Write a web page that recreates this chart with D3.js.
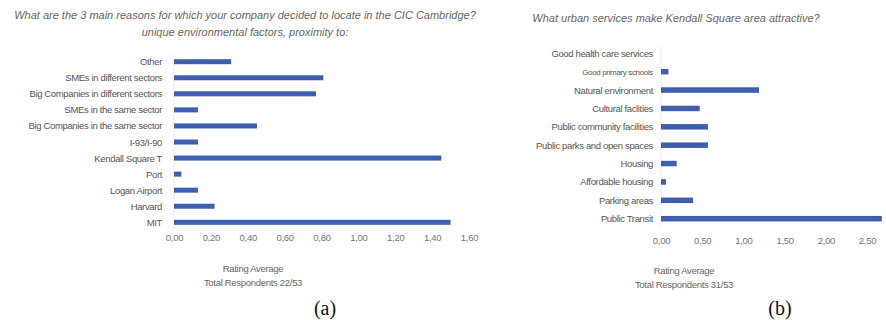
<!DOCTYPE html>
<html><head><meta charset="utf-8">
<script src="https://cdn.jsdelivr.net/npm/d3@7"></script>
<style>body{margin:0;background:#fff;}svg{display:block;font-family:"Liberation Sans",Arial,sans-serif;}</style>
</head><body>
<svg id="c" width="886" height="320"></svg>
<script>
// Chart (a)
const catsA = ["Other","SMEs in different sectors","Big Companies in different sectors","SMEs in the same sector","Big Companies in the same sector","I-93/I-90","Kendall Square T","Port","Logan Airport","Harvard","MIT"];
const valsA = [0.31,0.81,0.77,0.13,0.45,0.13,1.45,0.04,0.13,0.22,1.50];
const ticksA = [0,0.2,0.4,0.6,0.8,1.0,1.2,1.4,1.6];
const titleA = ["What are the 3 main reasons for which your company decided to locate in the CIC Cambridge?","unique environmental factors, proximity to:"];
const axisTitleA = ["Rating Average","Total Respondents 22/53"];
// Chart (b)
const catsB = ["Good health care services","Good primary schools","Natural environment","Cultural faclities","Public community facilities","Public parks and open spaces","Housing","Affordable housing","Parking areas","Public Transit"];
const valsB = [0,0.09,1.19,0.47,0.57,0.57,0.19,0.06,0.39,2.68];
const ticksB = [0,0.5,1.0,1.5,2.0,2.5];
const titleB = ["What urban services make Kendall Square area attractive?"];
const axisTitleB = ["Rating Average","Total Respondents 31/53"];

const svg = d3.select("#c");
const fmt = v => d3.format(".2f")(v).replace(".", ",");
const barColor = "#3d5fb0";

function drawChart(cfg){
  const g = svg.append("g");
  const x = d3.scaleLinear().domain(cfg.domain).range(cfg.xr);
  const y = d3.scalePoint().domain(cfg.cats).range(cfg.yr);
  // faint axis line
  g.append("line").attr("x1",x(0)).attr("x2",x(0))
    .attr("y1",cfg.yr[0]-8).attr("y2",cfg.yr[1]+8)
    .attr("stroke","#ececec").attr("stroke-width",1);
  // bars
  g.selectAll("rect.bar").data(cfg.vals).join("rect")
    .attr("x",x(0)).attr("y",(d,i)=>y(cfg.cats[i])-cfg.bh/2)
    .attr("width",d=>x(d)-x(0)).attr("height",cfg.bh)
    .attr("fill",barColor);
  // category labels via axis
  const ya = d3.axisLeft(y).tickSize(0).tickPadding(0);
  const yg = g.append("g").attr("transform",`translate(${cfg.labelX},0)`).call(ya);
  yg.select(".domain").remove();
  yg.selectAll("text").attr("font-size",cfg.labelSize).attr("fill","#555")
    .attr("font-family","'Liberation Sans',Arial,sans-serif")
    .attr("letter-spacing","-0.35px")
    .attr("font-size",d=>d==="Good primary schools"?8:cfg.labelSize);
  // x axis ticks
  const xa = d3.axisBottom(x).tickValues(cfg.ticks).tickFormat(fmt).tickSize(0).tickPadding(0);
  const xg = g.append("g").attr("transform",`translate(0,${cfg.tickY})`).call(xa);
  xg.select(".domain").remove();
  xg.selectAll("text").attr("font-size",9.5).attr("fill","#777").attr("dy","0.35em")
    .attr("letter-spacing","-0.3px")
    .attr("font-family","'Liberation Sans',Arial,sans-serif");
  // titles
  cfg.title.forEach((t,i)=>{
    g.append("text").attr("x",cfg.titleX).attr("y",cfg.titleY+i*17)
      .attr("text-anchor","middle").attr("dominant-baseline","central")
      .attr("font-style","italic").attr("font-size",11).attr("fill","#666").text(t);
  });
  cfg.axisTitle.forEach((t,i)=>{
    g.append("text").attr("x",cfg.atX).attr("y",cfg.atY+i*14)
      .attr("text-anchor","middle").attr("dominant-baseline","central")
      .attr("font-size",9.5).attr("fill","#666").attr("letter-spacing","-0.3px").text(t);
  });
  g.append("text").attr("x",cfg.capX).attr("y",308)
    .attr("text-anchor","middle").attr("dominant-baseline","central")
    .attr("font-family","'Liberation Serif','Times New Roman',serif")
    .attr("font-size",20).attr("fill","#111").text(cfg.cap);
}

drawChart({cats:catsA, vals:valsA, ticks:ticksA, domain:[0,1.6], xr:[174,469], yr:[61.7,222.3],
  bh:5, labelX:162, labelSize:9.5, tickY:238, title:titleA, titleX:245, titleY:15,
  axisTitle:axisTitleA, atX:253, atY:268, cap:"(a)", capX:325});
drawChart({cats:catsB, vals:valsB, ticks:ticksB, domain:[0,2.5], xr:[661,867], yr:[53.3,218.7],
  bh:5.5, labelX:653, labelSize:9.5, tickY:241, title:titleB, titleX:676, titleY:18,
  axisTitle:axisTitleB, atX:684, atY:270, cap:"(b)", capX:780});
</script>
</body></html>
